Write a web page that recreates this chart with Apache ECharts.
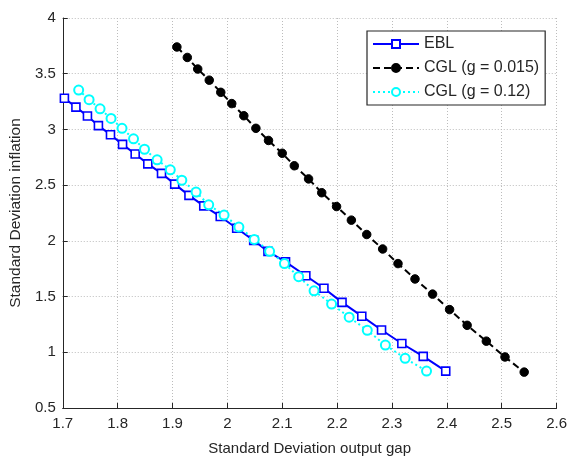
<!DOCTYPE html>
<html>
<head>
<meta charset="utf-8">
<script src="https://cdn.jsdelivr.net/npm/echarts@6/dist/echarts.min.js"></script>
<style>
html,body{margin:0;padding:0;background:#fff;}
#chart{width:570px;height:461px;}
</style>
</head>
<body>
<div id="chart"></div>
<script>
var xTicks = [1.7, 1.8, 1.9, 2, 2.1, 2.2, 2.3, 2.4, 2.5, 2.6];
var yTicks = [0.5, 1, 1.5, 2, 2.5, 3, 3.5, 4];
var seriesNames = ['EBL', 'CGL (g = 0.015)', 'CGL (g = 0.12)'];

var eblX = [1.703, 1.724, 1.745, 1.765, 1.787, 1.809, 1.832, 1.855, 1.880, 1.904, 1.930, 1.957, 1.987, 2.017, 2.048, 2.074, 2.106, 2.143, 2.176, 2.209, 2.245, 2.281, 2.318, 2.357, 2.398];
var eblY = [3.280, 3.200, 3.120, 3.034, 2.952, 2.866, 2.780, 2.691, 2.606, 2.509, 2.408, 2.314, 2.219, 2.113, 2.004, 1.906, 1.811, 1.687, 1.575, 1.448, 1.324, 1.200, 1.079, 0.963, 0.831];

var cglAX = [1.908, 1.927, 1.946, 1.967, 1.988, 2.008, 2.030, 2.052, 2.075, 2.100, 2.122, 2.148, 2.172, 2.199, 2.226, 2.254, 2.283, 2.311, 2.342, 2.374, 2.405, 2.437, 2.472, 2.506, 2.541];
var cglAY = [3.740, 3.646, 3.542, 3.442, 3.333, 3.232, 3.123, 3.010, 2.901, 2.786, 2.674, 2.556, 2.432, 2.308, 2.186, 2.057, 1.927, 1.796, 1.658, 1.522, 1.383, 1.242, 1.100, 0.958, 0.822];

var cglBX = [1.729, 1.748, 1.768, 1.788, 1.808, 1.829, 1.849, 1.872, 1.896, 1.917, 1.943, 1.966, 1.994, 2.021, 2.049, 2.077, 2.104, 2.130, 2.158, 2.190, 2.222, 2.255, 2.288, 2.324, 2.363];
var cglBY = [3.353, 3.267, 3.185, 3.099, 3.010, 2.916, 2.822, 2.727, 2.638, 2.544, 2.438, 2.323, 2.231, 2.124, 2.013, 1.906, 1.796, 1.679, 1.552, 1.433, 1.315, 1.197, 1.065, 0.946, 0.831];

function pairs(xs, ys) { return xs.map(function (x, i) { return [x, ys[i]]; }); }

var textColor = '#262626';
var font = 'Liberation Sans, Arial, Helvetica, sans-serif';
var chart = echarts.init(document.getElementById('chart'), null, {renderer: 'canvas'});
chart.setOption({
  animation: false,
  backgroundColor: '#fff',
  grid: {left: 60.5, right: 10, top: 18, bottom: 48, containLabel: false},
  xAxis: {
    type: 'value', min: xTicks[0], max: xTicks[xTicks.length - 1], interval: 0.1,
    name: 'Standard Deviation output gap', nameLocation: 'middle', nameGap: 33,
    nameTextStyle: {color: textColor, fontSize: 15, fontFamily: font},
    axisLine: {show: true, onZero: false, lineStyle: {color: textColor, width: 1}},
    axisTick: {show: true, inside: true, length: 5, lineStyle: {color: textColor}},
    axisLabel: {color: textColor, fontSize: 15, fontFamily: font, margin: 8,
      formatter: function (v) { return String(parseFloat(v.toFixed(1))); }},
    splitLine: {show: true, lineStyle: {color: '#bcbcbc', type: [1, 2], width: 1}}
  },
  yAxis: {
    type: 'value', min: yTicks[0], max: yTicks[yTicks.length - 1], interval: 0.5,
    name: 'Standard Deviation inflation', nameLocation: 'middle', nameGap: 33,
    nameTextStyle: {color: textColor, fontSize: 15.5, fontFamily: font},
    axisLine: {show: true, onZero: false, lineStyle: {color: textColor, width: 1}},
    axisTick: {show: true, inside: true, length: 5, lineStyle: {color: textColor}},
    axisLabel: {color: textColor, fontSize: 15, fontFamily: font, margin: 7,
      formatter: function (v) { return String(parseFloat(v.toFixed(1))); }},
    splitLine: {show: true, lineStyle: {color: '#bcbcbc', type: [1, 2], width: 1}}
  },
  legend: {
    orient: 'vertical', left: 367, top: 31,
    data: seriesNames,
    backgroundColor: '#fff', borderColor: textColor, borderWidth: 1.2,
    padding: [5, 6, 5, 5], itemWidth: 46, itemHeight: 10, itemGap: 8,
    textStyle: {color: textColor, fontSize: 16, fontFamily: font, lineHeight: 14}
  },
  series: [
    {
      name: seriesNames[0], type: 'line', data: pairs(eblX, eblY),
      symbol: 'rect', symbolSize: 8, showAllSymbol: true,
      lineStyle: {color: '#0000ff', width: 2},
      itemStyle: {color: '#ffffff', borderColor: '#0000ff', borderWidth: 1.6}
    },
    {
      name: seriesNames[1], type: 'line', data: pairs(cglAX, cglAY),
      symbol: 'circle', symbolSize: 8.5, showAllSymbol: true,
      lineStyle: {color: '#000000', width: 2, type: [7, 4]},
      itemStyle: {color: '#000000', borderColor: '#000000', borderWidth: 1}
    },
    {
      name: seriesNames[2], type: 'line', data: pairs(cglBX, cglBY),
      symbol: 'emptyCircle', symbolSize: 9, showAllSymbol: true,
      lineStyle: {color: '#00ffff', width: 2, type: [2, 3]},
      itemStyle: {color: '#00ffff', borderColor: '#00ffff', borderWidth: 2}
    }
  ]
});
</script>
</body>
</html>
